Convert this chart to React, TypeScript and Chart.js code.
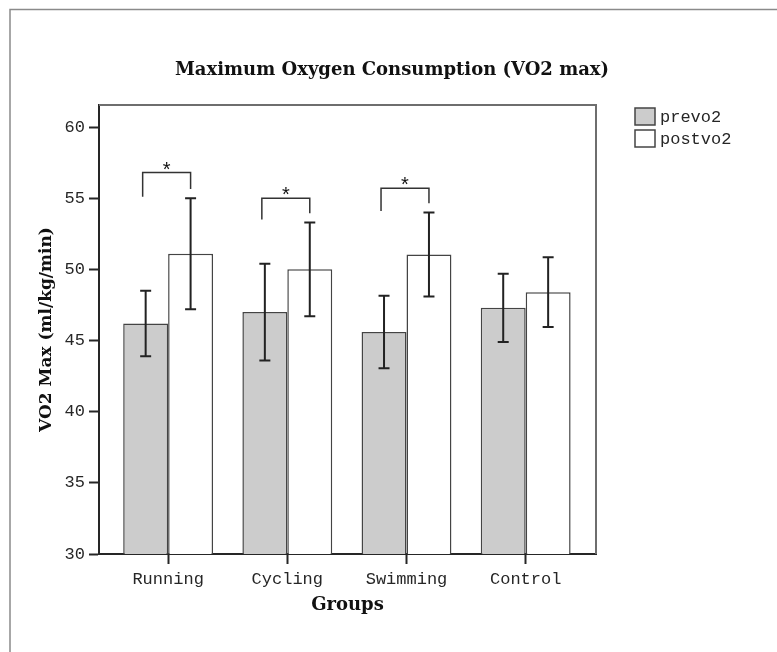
import { useEffect, useRef } from "react";
import { Chart, registerables } from "chart.js";

Chart.register(...registerables);

// Groups and VO2 max (ml/kg/min) means with error-bar half-widths
const groups = ["Running", "Cycling", "Swimming", "Control"];
const preMeans = [46.2, 47.0, 45.6, 47.3];
const preErrors = [2.3, 3.4, 2.55, 2.4];
const postMeans = [51.1, 50.0, 51.05, 48.4];
const postErrors = [3.9, 3.3, 2.95, 2.45];
const seriesLabels = ["prevo2", "postvo2"];
const yTicks = [30, 35, 40, 45, 50, 55, 60];

// Significance brackets: group index, bracket height, left and right leg ends
const sigGroups = [0, 1, 2];
const sigTops = [56.8, 55.0, 55.7];
const sigLeftEnds = [55.1, 53.5, 54.1];
const sigRightEnds = [55.65, 53.95, 54.65];

const MONO = "'Courier New', 'Liberation Mono', monospace";
const SERIF = "'DejaVu Serif', serif";
const INK = "#262626";

const decorPlugin = {
  id: "decor",
  beforeDraw(chart: any) {
    const { ctx, width, height } = chart;
    ctx.save();
    ctx.fillStyle = "#ffffff";
    ctx.fillRect(0, 0, width, height);
    ctx.restore();
  },
  afterDatasetsDraw(chart: any) {
    const { ctx } = chart;
    const yScale = chart.scales.y;
    const errs = [preErrors, postErrors];
    const means = [preMeans, postMeans];
    ctx.save();
    // error bars
    ctx.strokeStyle = "#222222";
    ctx.lineWidth = 2;
    for (let d = 0; d < 2; d++) {
      const meta = chart.getDatasetMeta(d);
      meta.data.forEach((el: any, i: number) => {
        const x = el.x;
        const top = yScale.getPixelForValue(means[d][i] + errs[d][i]);
        const bot = yScale.getPixelForValue(means[d][i] - errs[d][i]);
        ctx.beginPath();
        ctx.moveTo(x, top);
        ctx.lineTo(x, bot);
        ctx.moveTo(x - 5.5, top);
        ctx.lineTo(x + 5.5, top);
        ctx.moveTo(x - 5.5, bot);
        ctx.lineTo(x + 5.5, bot);
        ctx.stroke();
      });
    }
    // significance brackets with stars
    ctx.strokeStyle = "#333333";
    ctx.lineWidth = 1.5;
    ctx.fillStyle = "#111111";
    ctx.font = "20px 'Liberation Sans', Arial, sans-serif";
    ctx.textAlign = "center";
    ctx.textBaseline = "alphabetic";
    const preMeta = chart.getDatasetMeta(0);
    const postMeta = chart.getDatasetMeta(1);
    sigGroups.forEach((g, k) => {
      const x1 = preMeta.data[g].x - 3;
      const x2 = postMeta.data[g].x;
      const yTop = yScale.getPixelForValue(sigTops[k]);
      const yL = yScale.getPixelForValue(sigLeftEnds[k]);
      const yR = yScale.getPixelForValue(sigRightEnds[k]);
      ctx.beginPath();
      ctx.moveTo(x1, yL);
      ctx.lineTo(x1, yTop);
      ctx.lineTo(x2, yTop);
      ctx.lineTo(x2, yR);
      ctx.stroke();
      ctx.fillText("*", (x1 + x2) / 2, yTop + 3);
    });
    ctx.restore();
  },
  afterDraw(chart: any) {
    const { ctx, chartArea, width, height } = chart;
    const { left, right, top, bottom } = chartArea;
    ctx.save();
    // outer frame
    ctx.strokeStyle = "#8a8a8a";
    ctx.lineWidth = 1.5;
    ctx.beginPath();
    ctx.moveTo(10, height);
    ctx.lineTo(10, 9.5);
    ctx.lineTo(width, 9.5);
    ctx.stroke();
    // plot frame, top and right
    ctx.strokeStyle = "#6e6e6e";
    ctx.lineWidth = 2;
    ctx.beginPath();
    ctx.moveTo(left, top);
    ctx.lineTo(right, top);
    ctx.lineTo(right, bottom);
    ctx.stroke();
    // titles
    ctx.fillStyle = "#111111";
    ctx.textAlign = "center";
    ctx.textBaseline = "middle";
    ctx.font = `bold 18px ${SERIF}`;
    ctx.fillText("Maximum Oxygen Consumption (VO2 max)", 392, 70);
    ctx.fillText("Groups", (left + right) / 2, 605);
    ctx.save();
    ctx.translate(47, (top + bottom) / 2);
    ctx.rotate(-Math.PI / 2);
    ctx.font = `bold 17px ${SERIF}`;
    ctx.fillText("VO2 Max (ml/kg/min)", 0, 0);
    ctx.restore();
    // legend
    const fills = ["#cccccc", "#ffffff"];
    ctx.font = `17px ${MONO}`;
    ctx.textAlign = "left";
    ctx.textBaseline = "middle";
    seriesLabels.forEach((lab, i) => {
      const bx = right + 39;
      const by = 108 + i * 22;
      ctx.fillStyle = fills[i];
      ctx.fillRect(bx, by, 20, 17);
      ctx.strokeStyle = "#444444";
      ctx.lineWidth = 1.5;
      ctx.strokeRect(bx, by, 20, 17);
      ctx.fillStyle = INK;
      ctx.fillText(lab, bx + 25, by + 9);
    });
    ctx.restore();
  },
};

export default function App() {
  const canvasRef = useRef<HTMLCanvasElement | null>(null);

  useEffect(() => {
    const canvas = canvasRef.current;
    if (!canvas) return;
    const chart = new Chart(canvas, {
      type: "bar",
      data: {
        datasets: [
          {
            label: seriesLabels[0],
            data: preMeans.map((v, i) => ({ x: i + 1, y: v })),
            backgroundColor: "#cccccc",
            borderColor: "#444444",
            borderWidth: 1.5,
            categoryPercentage: 0.754,
            barPercentage: 1,
          },
          {
            label: seriesLabels[1],
            data: postMeans.map((v, i) => ({ x: i + 1, y: v })),
            backgroundColor: "#ffffff",
            borderColor: "#444444",
            borderWidth: 1.5,
            categoryPercentage: 0.754,
            barPercentage: 1,
          },
        ],
      },
      options: {
        responsive: false,
        animation: false,
        layout: { padding: { left: 0, top: 105, right: 181, bottom: 0 } },
        plugins: {
          legend: { display: false },
          tooltip: { enabled: false },
          title: { display: false },
        },
        scales: {
          x: {
            type: "linear",
            min: 0.42,
            max: 4.59,
            offset: false,
            afterBuildTicks: (s: any) => {
              s.ticks = groups.map((_, i) => ({ value: i + 1 }));
            },
            afterFit: (s: any) => {
              s.height = 98;
            },
            ticks: {
              autoSkip: false,
              maxRotation: 0,
              padding: 5,
              color: INK,
              font: { family: MONO, size: 17 },
              callback: (v: any) => groups[Math.round(v) - 1] ?? "",
            },
            grid: {
              offset: false,
              drawOnChartArea: false,
              drawTicks: true,
              tickLength: 10,
              tickColor: INK,
              tickWidth: 2,
            },
            border: { display: true, color: INK, width: 2 },
          },
          y: {
            type: "linear",
            min: 30,
            max: 61.55,
            afterBuildTicks: (s: any) => {
              s.ticks = yTicks.map((v) => ({ value: v }));
            },
            afterFit: (s: any) => {
              s.width = 99;
            },
            ticks: {
              padding: 4,
              color: INK,
              font: { family: MONO, size: 17 },
            },
            grid: {
              drawOnChartArea: false,
              drawTicks: true,
              tickLength: 10,
              tickColor: INK,
              tickWidth: 2,
            },
            border: { display: true, color: INK, width: 2 },
          },
        },
      },
      plugins: [decorPlugin],
    });
    return () => chart.destroy();
  }, []);

  return (
    <div style={{ position: "absolute", left: 0, top: 0, width: 777, height: 652 }}>
      <canvas ref={canvasRef} width={777} height={652} style={{ display: "block" }} />
    </div>
  );
}
